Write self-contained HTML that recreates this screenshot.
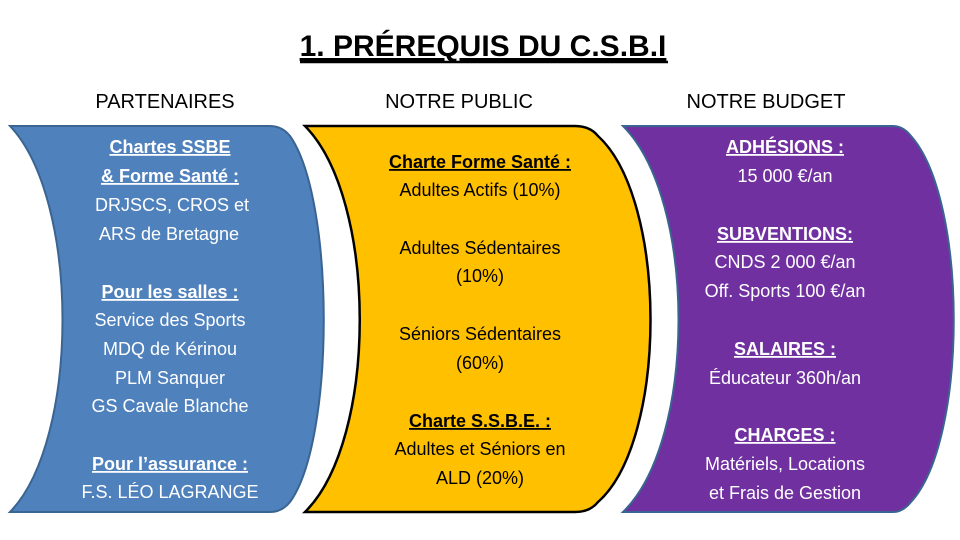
<!DOCTYPE html>
<html><head><meta charset="utf-8"><style>
body{margin:0;background:#fff;}
svg{display:block;font-family:"Liberation Sans",sans-serif;}
</style></head><body>
<svg width="960" height="540" viewBox="0 0 960 540">
<text x="483" y="56" text-anchor="middle" font-size="30" font-weight="bold" text-decoration="underline">1. PRÉREQUIS DU C.S.B.I</text>
<line x1="300" y1="62" x2="668" y2="62" stroke="#000" stroke-width="2.5"/>
<text x="165" y="108" text-anchor="middle" font-size="20">PARTENAIRES</text>
<text x="459" y="108" text-anchor="middle" font-size="20">NOTRE PUBLIC</text>
<text x="766" y="108" text-anchor="middle" font-size="20">NOTRE BUDGET</text>

<path d="M10,126 L270,126 Q282,126 290,136 C335,200 335,440 290,502 Q282,512 270,512 L10,512 C80,440 80,200 10,126 Z" fill="#4f81bd" stroke="#3a6491" stroke-width="2"/>
<path d="M305,126 L575,126 Q590,126 598,136 C668,200 668,440 598,502 Q590,512 575,512 L305,512 C378,440 378,200 305,126 Z" fill="#ffc000" stroke="#000" stroke-width="2.5"/>
<path d="M623,126 L893,126 Q903,126 911,136 C968,200 968,440 911,502 Q903,512 893,512 L623,512 C697,440 697,200 623,126 Z" fill="#7030a0" stroke="#3a6491" stroke-width="2"/>

<g fill="#fff" font-size="18" text-anchor="middle">
<text x="170" y="153" font-weight="bold" text-decoration="underline">Chartes SSBE</text>
<text x="170" y="182" font-weight="bold" text-decoration="underline">&amp; Forme Santé :</text>
<text x="172" y="211">DRJSCS, CROS et</text>
<text x="169" y="240">ARS de Bretagne</text>
<text x="170" y="298" font-weight="bold" text-decoration="underline">Pour les salles :</text>
<text x="170" y="326">Service des Sports</text>
<text x="170" y="355">MDQ de Kérinou</text>
<text x="170" y="384">PLM Sanquer</text>
<text x="170" y="412">GS Cavale Blanche</text>
<text x="170" y="470" font-weight="bold" text-decoration="underline">Pour l’assurance :</text>
<text x="170" y="498">F.S. LÉO LAGRANGE</text>
</g>
<g fill="#000" font-size="18" text-anchor="middle">
<text x="480" y="168" font-weight="bold" text-decoration="underline">Charte Forme Santé :</text>
<text x="480" y="196">Adultes Actifs (10%)</text>
<text x="480" y="254">Adultes Sédentaires</text>
<text x="480" y="282">(10%)</text>
<text x="480" y="340">Séniors Sédentaires</text>
<text x="480" y="369">(60%)</text>
<text x="480" y="427" font-weight="bold" text-decoration="underline">Charte S.S.B.E. :</text>
<text x="480" y="455">Adultes et Séniors en</text>
<text x="480" y="484">ALD (20%)</text>
</g>
<g fill="#fff" font-size="18" text-anchor="middle">
<text x="785" y="153" font-weight="bold" text-decoration="underline">ADHÉSIONS :</text>
<text x="785" y="182">15 000 €/an</text>
<text x="785" y="240" font-weight="bold" text-decoration="underline">SUBVENTIONS:</text>
<text x="785" y="268">CNDS 2 000 €/an</text>
<text x="785" y="297">Off. Sports 100 €/an</text>
<text x="785" y="355" font-weight="bold" text-decoration="underline">SALAIRES :</text>
<text x="785" y="384">Éducateur 360h/an</text>
<text x="785" y="441" font-weight="bold" text-decoration="underline">CHARGES :</text>
<text x="785" y="470">Matériels, Locations</text>
<text x="785" y="499">et Frais de Gestion</text>
</g>
</svg>
</body></html>
